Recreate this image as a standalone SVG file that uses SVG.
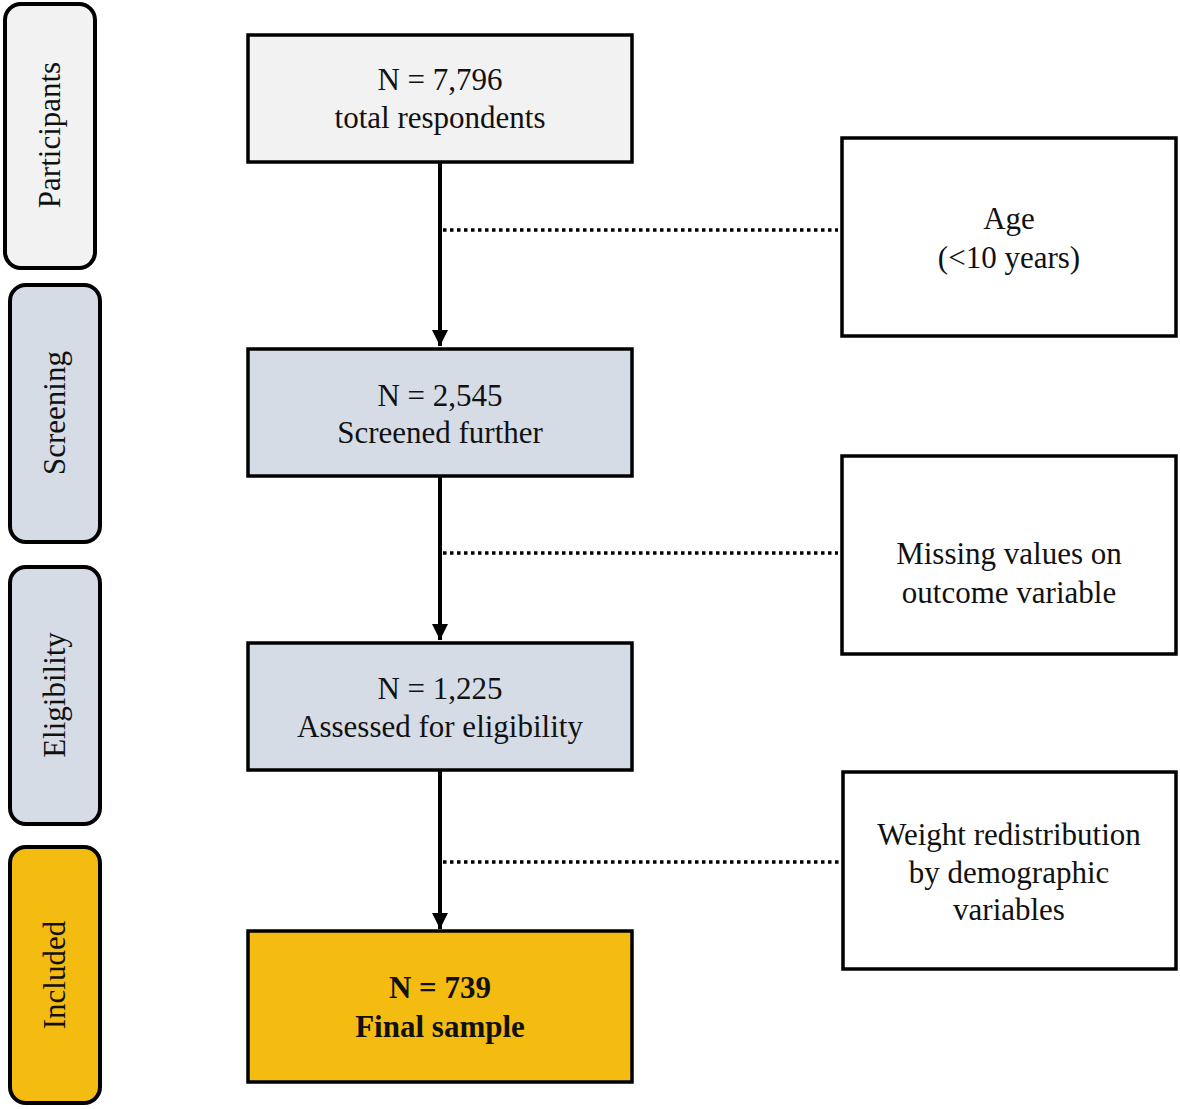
<svg xmlns="http://www.w3.org/2000/svg" width="1180" height="1109" viewBox="0 0 1180 1109">
<style>
text{font-family:"Liberation Serif","Times New Roman",serif;font-size:31px;fill:#111;text-anchor:middle}
.b{font-weight:bold}
.side{stroke:#000;stroke-width:4}
.box{stroke:#000;stroke-width:3.5}
.grey{fill:#f2f2f2}
.blue{fill:#d6dce5}
.gold{fill:#f4bc10}
.white{fill:#fff}
.arrow{stroke:#000;stroke-width:4;fill:none}
.dot{stroke:#000;stroke-width:3.5;stroke-dasharray:3.5 3.5;fill:none}
</style>
<defs>
<marker id="ah" viewBox="0 0 10 10" refX="10" refY="5" markerWidth="4" markerHeight="4" orient="auto" markerUnits="strokeWidth">
<path d="M0,0 L10,5 L0,10 Z" fill="#000"/>
</marker>
</defs>
<rect width="1180" height="1109" fill="#fff"/>
<g id="stage-participants"><rect class="side grey" x="5" y="4" width="90" height="264" rx="16"/><text transform="translate(60,135) rotate(-90)">Participants</text></g>
<g id="stage-screening"><rect class="side blue" x="10" y="285" width="90" height="257" rx="16"/><text transform="translate(65,413) rotate(-90)">Screening</text></g>
<g id="stage-eligibility"><rect class="side blue" x="10" y="567" width="90" height="257" rx="16"/><text transform="translate(65,695) rotate(-90)">Eligibility</text></g>
<g id="stage-included"><rect class="side gold" x="10" y="847" width="90" height="256" rx="16"/><text transform="translate(65,975) rotate(-90)">Included</text></g>
<g id="n-total"><rect class="box grey" x="248" y="35" width="384" height="127"/><text x="440" y="90">N = 7,796</text><text x="440" y="128">total respondents</text></g>
<g id="n-screened"><rect class="box blue" x="248" y="349" width="384" height="127"/><text x="440" y="406">N = 2,545</text><text x="440" y="443">Screened further</text></g>
<g id="n-assessed"><rect class="box blue" x="248" y="643" width="384" height="127"/><text x="440" y="699">N = 1,225</text><text x="440" y="737">Assessed for eligibility</text></g>
<g id="n-final"><rect class="box gold" x="248" y="931" width="384" height="151"/><text class="b" x="440" y="998">N = 739</text><text class="b" x="440" y="1037">Final sample</text></g>
<g id="ex-age"><rect class="box white" x="842" y="138" width="334" height="198"/><text x="1009" y="229">Age</text><text x="1009" y="268">(&lt;10 years)</text></g>
<g id="ex-missing"><rect class="box white" x="842" y="456" width="334" height="198"/><text x="1009" y="564">Missing values on</text><text x="1009" y="603">outcome variable</text></g>
<g id="ex-weight"><rect class="box white" x="843" y="772" width="333" height="197"/><text x="1009" y="845">Weight redistribution</text><text x="1009" y="883">by demographic</text><text x="1009" y="920">variables</text></g>
<g id="connectors">
<line class="arrow" x1="440" y1="163" x2="440" y2="346" marker-end="url(#ah)"/>
<line class="arrow" x1="440" y1="477" x2="440" y2="640" marker-end="url(#ah)"/>
<line class="arrow" x1="440" y1="771" x2="440" y2="929" marker-end="url(#ah)"/>
<line class="dot" x1="443" y1="230" x2="838" y2="230"/>
<line class="dot" x1="443" y1="553" x2="838" y2="553"/>
<line class="dot" x1="443" y1="862" x2="840" y2="862"/>
</g>
</svg>
